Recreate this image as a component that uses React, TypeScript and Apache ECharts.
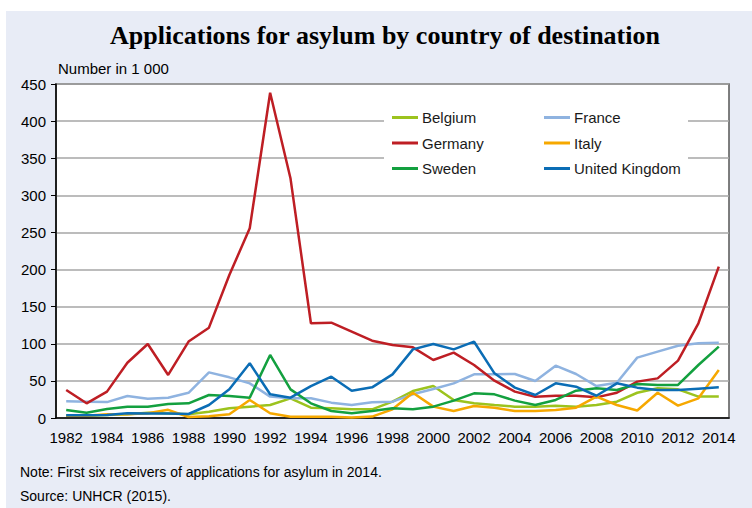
import React, { useEffect, useRef } from "react";
import * as echarts from "echarts";

const years = [
  "1982","1983","1984","1985","1986","1987","1988","1989","1990","1991","1992",
  "1993","1994","1995","1996","1997","1998","1999","2000","2001","2002","2003",
  "2004","2005","2006","2007","2008","2009","2010","2011","2012","2013","2014",
];

const belgium = [3, 3, 4, 5, 7, 6, 5, 8.5, 13, 15.3, 17.5, 26.5, 13.9, 13, 11.7, 11.7, 22, 36.4, 43, 24.3, 19.8, 17.5, 15.3, 15.3, 16.6, 15.3, 17.5, 22, 34, 40, 38.6, 28.8, 28.8];
const france = [22.5, 22, 21.4, 29.6, 26, 27.4, 34, 61.5, 54.8, 46.7, 28.8, 26.5, 26.5, 20.7, 17.5, 21.1, 22, 31.9, 39, 46.7, 58.8, 58.8, 59.3, 49.9, 70.5, 59.3, 43, 47.6, 81.3, 89.4, 97.4, 100.6, 101.5];
const germany = [37.7, 19.8, 35.5, 74.5, 99.7, 58, 103, 121.7, 192.7, 255.6, 438.2, 322.6, 127.6, 128.4, 116.3, 104.2, 98.4, 95.2, 78.1, 88, 71.4, 50.3, 35.5, 28.7, 30, 30, 27.8, 34, 49, 53.4, 77.3, 127.6, 203.9];
const italy = [3, 3, 5, 5, 6.5, 11, 1.4, 2.2, 5, 24.3, 6.3, 1.6, 1.8, 1.7, 0.7, 1.9, 11.7, 34, 15.3, 9.4, 16.2, 13.9, 9.4, 9.4, 10.8, 13.9, 28.8, 17.5, 10.1, 34, 16.6, 26.5, 64.7];
const sweden = [10.8, 7.2, 12.1, 15.3, 15.3, 18.9, 19.8, 31, 29.6, 27.4, 84.9, 38.6, 19.8, 9.4, 6.3, 9.4, 13, 11.7, 15.3, 23.4, 33.2, 31.9, 23.4, 17.5, 24.3, 36.8, 40, 37.7, 45.8, 44.5, 44.5, 71.4, 96.1];
const uk = [3.6, 3.6, 4, 6.3, 6, 6, 5.4, 17.5, 38.6, 73.7, 32, 27.4, 43, 55.7, 36.8, 41.3, 58.8, 92.5, 99.7, 92.5, 102.8, 60.2, 40.9, 31, 46.7, 42.2, 30, 46.7, 40.9, 37.7, 37.7, 39.5, 41.3];

const yTicks = { min: 0, max: 450, interval: 50 };

const seriesDefs = [
  { name: "Belgium", data: belgium, color: "#9cc31e" },
  { name: "France", data: france, color: "#8fb3e0" },
  { name: "Germany", data: germany, color: "#be1e24" },
  { name: "Italy", data: italy, color: "#f6a800" },
  { name: "Sweden", data: sweden, color: "#13a03f" },
  { name: "United Kingdom", data: uk, color: "#0b6db5" },
];

const FONT = "'Liberation Sans', Arial, sans-serif";

export default function App() {
  const ref = useRef<HTMLDivElement>(null);
  useEffect(() => {
    if (!ref.current) return;
    const chart = echarts.init(ref.current, null, { renderer: "svg" });
    const legendCommon = {
      orient: "vertical" as const,
      top: 110,
      padding: 0,
      itemWidth: 26,
      itemHeight: 3,
      itemGap: 10.5,
      icon: "rect",
      textStyle: { fontFamily: FONT, fontSize: 15, lineHeight: 15, color: "#1a1a1a", padding: [0, 0, 0, -1] },
    };
    chart.setOption({
      animation: false,
      backgroundColor: "#ffffff",
      textStyle: { fontFamily: FONT },
      graphic: [
        {
          type: "rect",
          z: -10,
          silent: true,
          shape: { x: 6, y: 11, width: 760, height: 510 },
          style: { fill: "#e8ecf6" },
        },
        {
          type: "rect",
          z: 1,
          silent: true,
          shape: { x: 384, y: 100, width: 304, height: 84 },
          style: { fill: "#ffffff" },
        },
        {
          type: "text",
          x: 385,
          y: 35,
          style: {
            text: "Applications for asylum by country of destination",
            font: "bold 26px 'Liberation Serif', 'Times New Roman', serif",
            fill: "#000",
            textAlign: "center",
            textVerticalAlign: "middle",
          },
        },
        {
          type: "text",
          x: 58,
          y: 68,
          style: {
            text: "Number in 1 000",
            font: "15px " + FONT,
            fill: "#000",
            textVerticalAlign: "middle",
          },
        },
        {
          type: "text",
          x: 20,
          y: 472,
          style: {
            text: "Note: First six receivers of applications for asylum in 2014.",
            font: "14px " + FONT,
            fill: "#000",
            textVerticalAlign: "middle",
          },
        },
        {
          type: "text",
          x: 20,
          y: 496,
          style: {
            text: "Source: UNHCR (2015).",
            font: "14px " + FONT,
            fill: "#000",
            textVerticalAlign: "middle",
          },
        },
      ],
      grid: {
        left: 56,
        top: 84,
        right: 23,
        bottom: 90,
        show: true,
        backgroundColor: "#ffffff",
        borderColor: "#555555",
        borderWidth: 1.5,
      },
      legend: [
        { ...legendCommon, left: 392, data: ["Belgium", "Germany", "Sweden"] },
        { ...legendCommon, left: 544, data: ["France", "Italy", "United Kingdom"] },
      ],
      xAxis: {
        type: "category",
        data: years,
        boundaryGap: true,
        axisLine: { lineStyle: { color: "#000", width: 1.5 } },
        axisTick: { interval: 0, length: 5, lineStyle: { color: "#000" } },
        axisLabel: { interval: 1, fontSize: 15, color: "#000", margin: 12, fontFamily: FONT },
        splitLine: { show: false },
      },
      yAxis: {
        type: "value",
        min: yTicks.min,
        max: yTicks.max,
        interval: yTicks.interval,
        axisLine: { show: true, lineStyle: { color: "#000", width: 1.5 } },
        axisTick: { show: true, length: 5, lineStyle: { color: "#000" } },
        axisLabel: { fontSize: 15, color: "#000", margin: 10, fontFamily: FONT },
        splitLine: { lineStyle: { color: "#a6a6a6", width: 1.5 } },
      },
      series: seriesDefs.map((s) => ({
        name: s.name,
        type: "line",
        data: s.data,
        showSymbol: false,
        symbol: "none",
        color: s.color,
        lineStyle: { color: s.color, width: 2.5 },
        z: 3,
      })),
    });
    return () => chart.dispose();
  }, []);
  return (
    <div
      ref={ref}
      style={{ position: "absolute", left: 0, top: 0, width: 752, height: 508 }}
    />
  );
}
